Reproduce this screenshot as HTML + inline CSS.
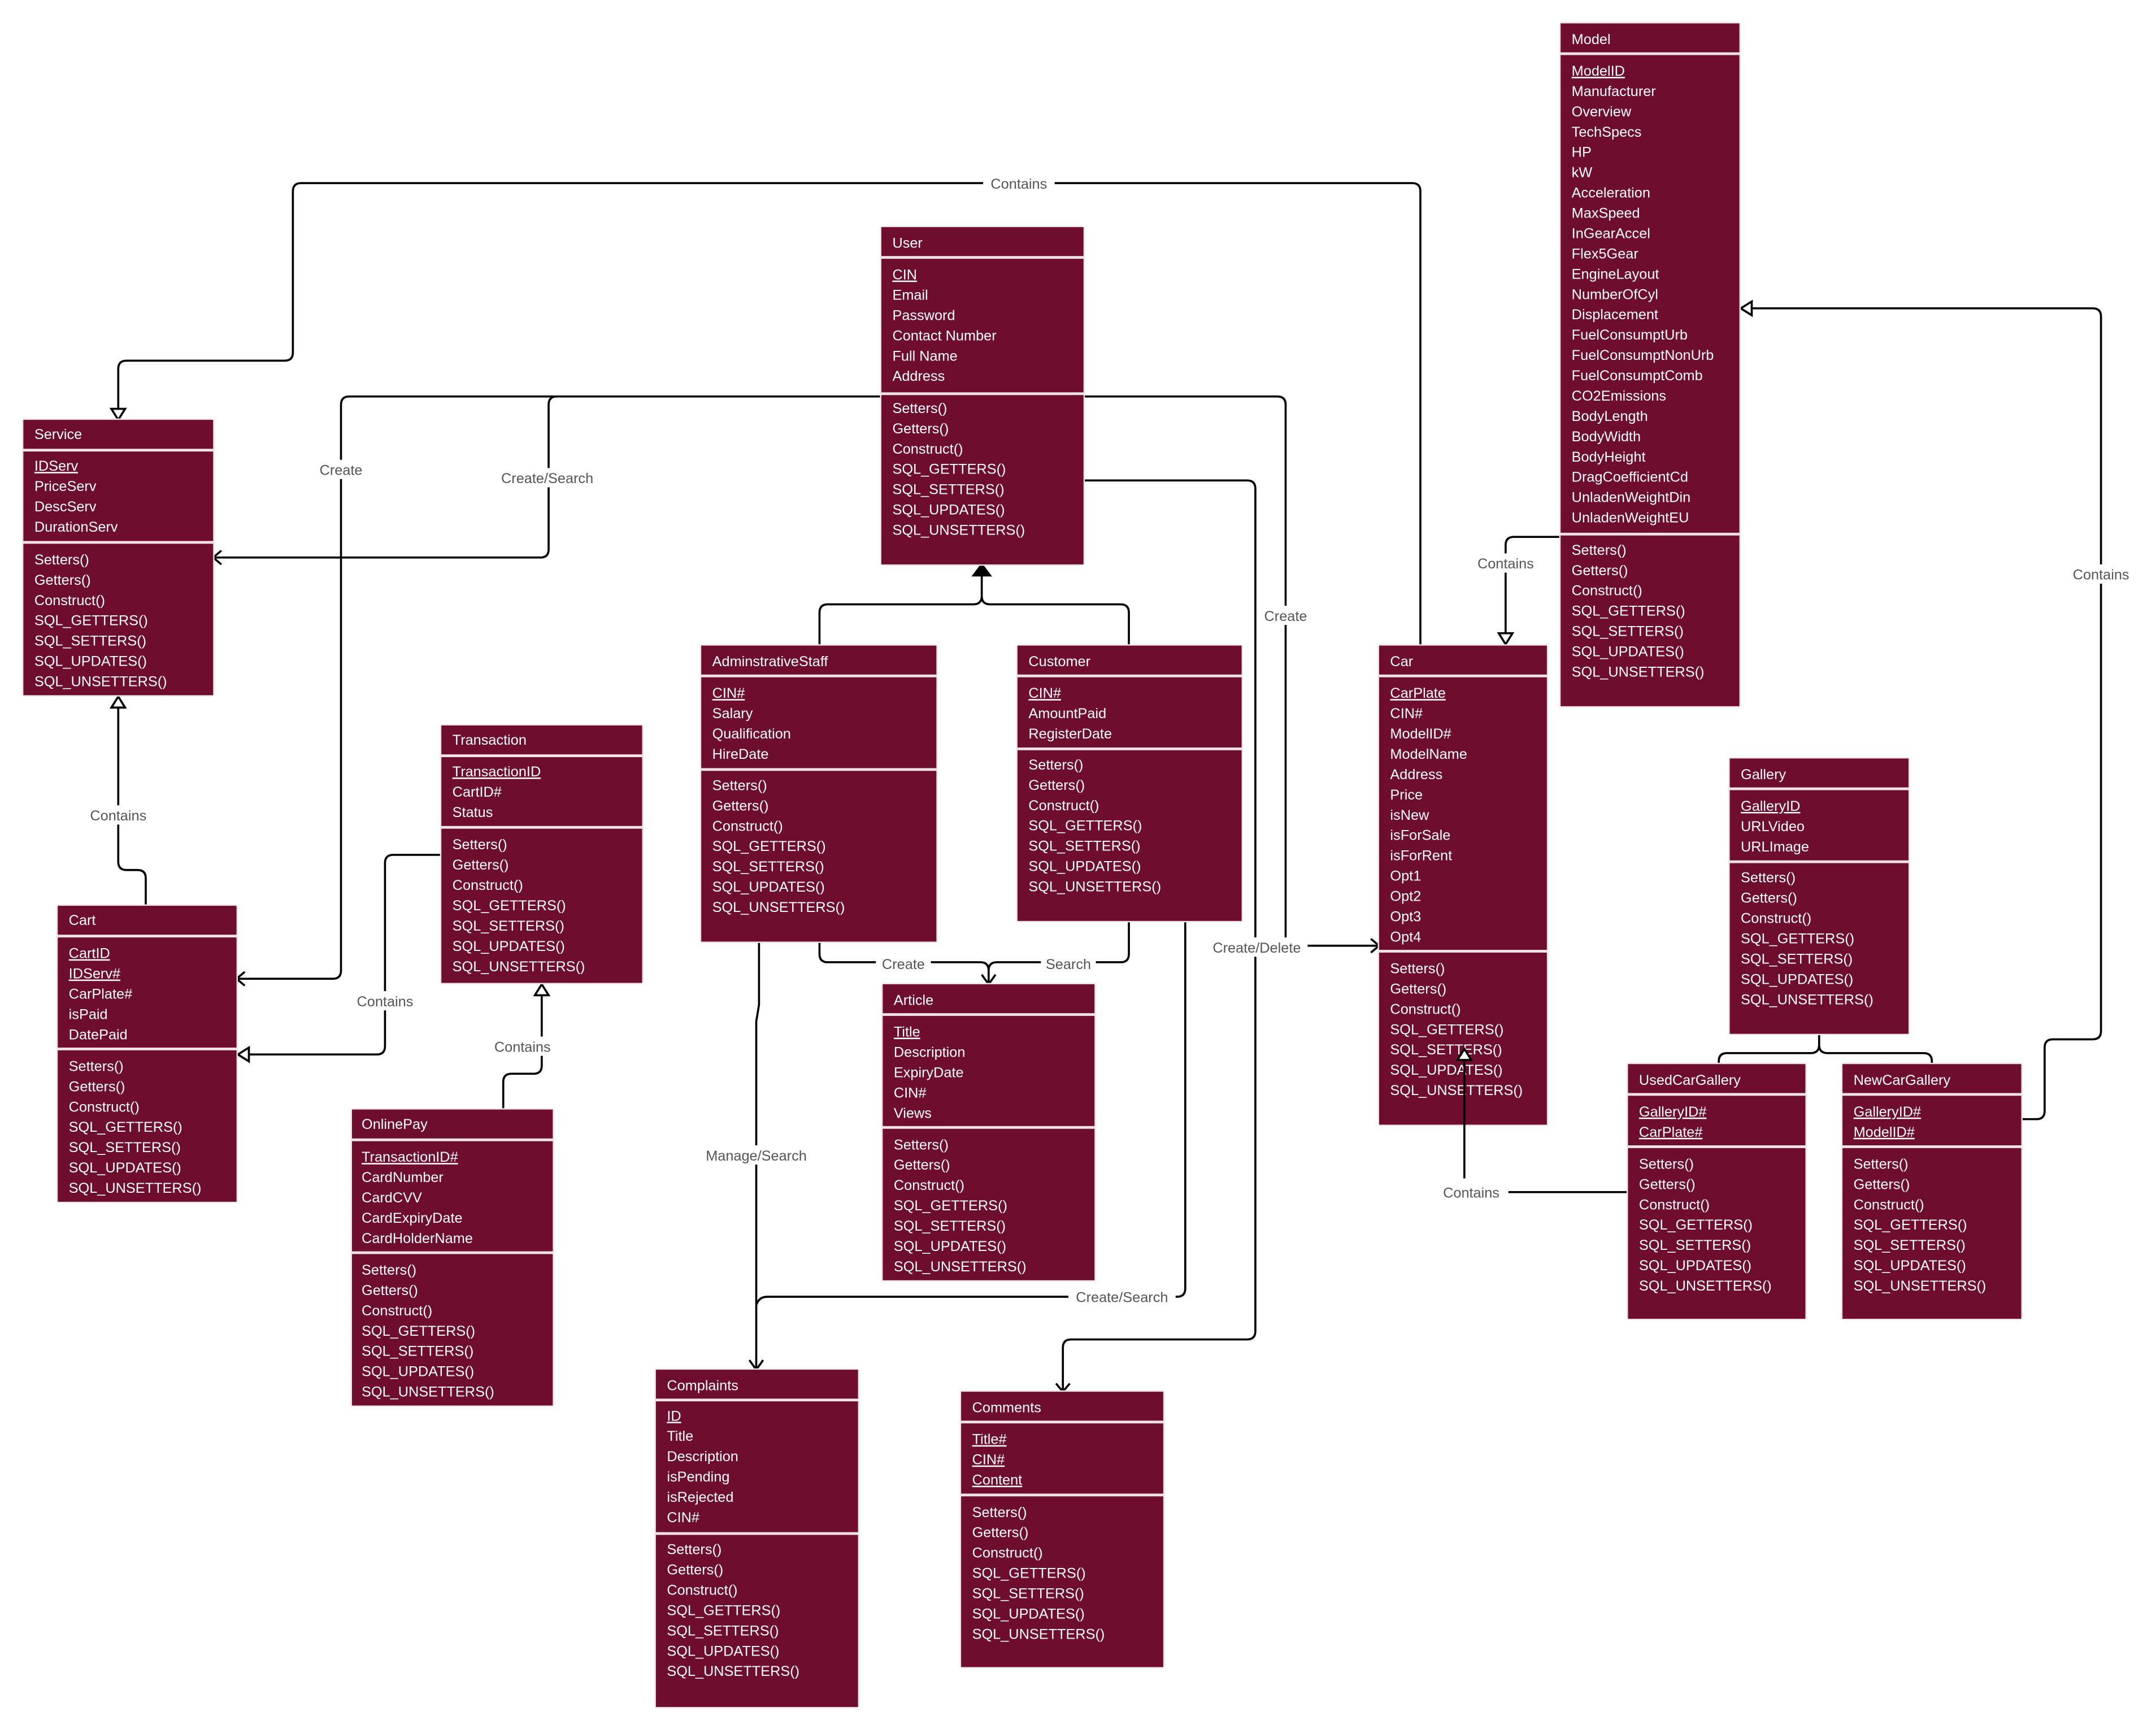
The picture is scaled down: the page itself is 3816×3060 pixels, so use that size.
<!DOCTYPE html>
<html><head><meta charset="utf-8">
<style>
html,body{margin:0;padding:0;background:#fff;}
svg{display:block;}
.t{font-family:"Liberation Sans",sans-serif;font-size:10.4px;fill:#fff;}
.u{text-decoration:underline;}
.l{font-family:"Liberation Sans",sans-serif;font-size:10.4px;fill:#555;}
.ln{fill:none;stroke:#000;stroke-width:1.5;stroke-linejoin:round;}
.o{fill:#efe3e7;}
.m{fill:#6e0d2e;}
</style></head>
<body>
<svg width="3816" height="3060" viewBox="0 0 1568 1256" preserveAspectRatio="none" xmlns="http://www.w3.org/2000/svg">
<rect width="1600" height="1300" fill="#fff"/>

<!-- connectors -->
<path class="ln" d="M1033 469 V139 Q1033 133 1027 133 H219 Q213 133 213 139 V256 Q213 262 207 262 H92 Q86 262 86 268 V297"/>
<path class="ln" d="M641 288 H254 Q248 288 248 294 V705 Q248 711 242 711 H173"/>
<path class="ln" d="M405 288 Q399 288 399 294 V399 Q399 405 393 405 H156"/>
<path class="ln" d="M788 288 H929 Q935 288 935 294 V681 Q935 687 941 687 H1002"/>
<path class="ln" d="M788 349 H907 Q913 349 913 355 V967 Q913 973 907 973 H779 Q773 973 773 979 V1010"/>
<path class="ln" d="M596 469 V445 Q596 439 602 439 H708 Q714 439 714 433 V414 M821 469 V445 Q821 439 815 439 H720 Q714 439 714 433"/>
<path class="ln" d="M596 684 V693 Q596 699 602 699 H713 Q719 699 719 705 V714 M821 669 V693 Q821 699 815 699 H725 Q719 699 719 705"/>
<path class="ln" d="M552 684 V730 L550 742 V994 M862 669 V936 Q862 942 856 942 H558 Q552 942 550 948"/>
<path class="ln" d="M106 658 V638 Q106 632 100 632 H92 Q86 632 86 626 V514"/>
<path class="ln" d="M321 621 H286 Q280 621 280 627 V760 Q280 766 274 766 H181"/>
<path class="ln" d="M366 806 V786 Q366 780 372 780 H388 Q394 780 394 774 V723"/>
<path class="ln" d="M1135 390 H1101 Q1095 390 1095 396 V460"/>
<path class="ln" d="M1470 813 H1481 Q1487 813 1487 807 V761 Q1487 755 1493 755 H1522 Q1528 755 1528 749 V230 Q1528 224 1522 224 H1274"/>
<path class="ln" d="M1323 751 V759 Q1323 765 1317 765 H1256 Q1250 765 1250 771 V773 M1323 759 Q1323 765 1329 765 H1399 Q1405 765 1405 771 V773"/>
<path class="ln" d="M1184 866 H1097"/>

<!-- arrowheads -->
<polygon points="81,297 91,297 86,305" fill="#fff" stroke="#000" stroke-width="1.5"/>
<polyline class="ln" points="178,706 172,711 178,716"/>
<polyline class="ln" points="161,400 155,405 161,410"/>
<polyline class="ln" points="997,682 1003,687 997,692"/>
<polyline class="ln" points="768,1005 773,1011 778,1005"/>
<polygon points="708,418 720,418 714,410" fill="#000" stroke="#000" stroke-width="1.5"/>
<polyline class="ln" points="714,708 719,715 724,708"/>
<polyline class="ln" points="545,988 550,995 555,988"/>
<polygon points="81,514 91,514 86,506" fill="#fff" stroke="#000" stroke-width="1.5"/>
<polygon points="181,761 181,771 173,766" fill="#fff" stroke="#000" stroke-width="1.5"/>
<polygon points="389,723 399,723 394,715" fill="#fff" stroke="#000" stroke-width="1.5"/>
<polygon points="1090,460 1100,460 1095,468" fill="#fff" stroke="#000" stroke-width="1.5"/>
<polygon points="1274,219 1274,229 1266,224" fill="#fff" stroke="#000" stroke-width="1.5"/>

<!-- labels -->
<g>
<rect x="715" y="126" width="52" height="14" fill="#fff"/><text class="l" x="741" y="137" text-anchor="middle">Contains</text>
<rect x="228" y="334" width="40" height="14" fill="#fff"/><text class="l" x="248" y="345" text-anchor="middle">Create</text>
<rect x="358" y="340" width="80" height="14" fill="#fff"/><text class="l" x="398" y="351" text-anchor="middle">Create/Search</text>
<rect x="915" y="440" width="40" height="14" fill="#fff"/><text class="l" x="935" y="451" text-anchor="middle">Create</text>
<rect x="877" y="681" width="74" height="14" fill="#fff"/><text class="l" x="914" y="692" text-anchor="middle">Create/Delete</text>
<rect x="637" y="693" width="40" height="14" fill="#fff"/><text class="l" x="657" y="704" text-anchor="middle">Create</text>
<rect x="757" y="693" width="40" height="14" fill="#fff"/><text class="l" x="777" y="704" text-anchor="middle">Search</text>
<rect x="508" y="832" width="84" height="14" fill="#fff"/><text class="l" x="550" y="843" text-anchor="middle">Manage/Search</text>
<rect x="777" y="935" width="78" height="14" fill="#fff"/><text class="l" x="816" y="946" text-anchor="middle">Create/Search</text>
<rect x="60" y="585" width="52" height="14" fill="#fff"/><text class="l" x="86" y="596" text-anchor="middle">Contains</text>
<rect x="254" y="720" width="52" height="14" fill="#fff"/><text class="l" x="280" y="731" text-anchor="middle">Contains</text>
<rect x="354" y="753" width="52" height="14" fill="#fff"/><text class="l" x="380" y="764" text-anchor="middle">Contains</text>
<rect x="1069" y="402" width="52" height="14" fill="#fff"/><text class="l" x="1095" y="413" text-anchor="middle">Contains</text>
<rect x="1502" y="410" width="52" height="14" fill="#fff"/><text class="l" x="1528" y="421" text-anchor="middle">Contains</text>
<text class="l" x="1070" y="870" text-anchor="middle">Contains</text>
</g>

<!-- Model -->
<rect class="o" x="1134" y="16" width="132" height="498" rx="2"/>
<rect class="m" x="1135" y="17" width="130" height="21"/>
<rect class="m" x="1135" y="40" width="130" height="347"/>
<rect class="m" x="1135" y="389" width="130" height="124"/>
<text class="t" x="1143" y="32">Model</text>
<text class="t" x="1143" y="55"><tspan class="u">ModelID</tspan><tspan x="1143" dy="14.75">Manufacturer</tspan><tspan x="1143" dy="14.75">Overview</tspan><tspan x="1143" dy="14.75">TechSpecs</tspan><tspan x="1143" dy="14.75">HP</tspan><tspan x="1143" dy="14.75">kW</tspan><tspan x="1143" dy="14.75">Acceleration</tspan><tspan x="1143" dy="14.75">MaxSpeed</tspan><tspan x="1143" dy="14.75">InGearAccel</tspan><tspan x="1143" dy="14.75">Flex5Gear</tspan><tspan x="1143" dy="14.75">EngineLayout</tspan><tspan x="1143" dy="14.75">NumberOfCyl</tspan><tspan x="1143" dy="14.75">Displacement</tspan><tspan x="1143" dy="14.75">FuelConsumptUrb</tspan><tspan x="1143" dy="14.75">FuelConsumptNonUrb</tspan><tspan x="1143" dy="14.75">FuelConsumptComb</tspan><tspan x="1143" dy="14.75">CO2Emissions</tspan><tspan x="1143" dy="14.75">BodyLength</tspan><tspan x="1143" dy="14.75">BodyWidth</tspan><tspan x="1143" dy="14.75">BodyHeight</tspan><tspan x="1143" dy="14.75">DragCoefficientCd</tspan><tspan x="1143" dy="14.75">UnladenWeightDin</tspan><tspan x="1143" dy="14.75">UnladenWeightEU</tspan></text>
<text class="t" x="1143" y="403"><tspan>Setters()</tspan><tspan x="1143" dy="14.75">Getters()</tspan><tspan x="1143" dy="14.75">Construct()</tspan><tspan x="1143" dy="14.75">SQL_GETTERS()</tspan><tspan x="1143" dy="14.75">SQL_SETTERS()</tspan><tspan x="1143" dy="14.75">SQL_UPDATES()</tspan><tspan x="1143" dy="14.75">SQL_UNSETTERS()</tspan></text>

<!-- User -->
<rect class="o" x="640" y="164" width="149" height="247" rx="2"/>
<rect class="m" x="641" y="165" width="147" height="21"/>
<rect class="m" x="641" y="188" width="147" height="97"/>
<rect class="m" x="641" y="287" width="147" height="123"/>
<text class="t" x="649" y="180">User</text>
<text class="t" x="649" y="203"><tspan class="u">CIN</tspan><tspan x="649" dy="14.75">Email</tspan><tspan x="649" dy="14.75">Password</tspan><tspan x="649" dy="14.75">Contact Number</tspan><tspan x="649" dy="14.75">Full Name</tspan><tspan x="649" dy="14.75">Address</tspan></text>
<text class="t" x="649" y="300"><tspan>Setters()</tspan><tspan x="649" dy="14.75">Getters()</tspan><tspan x="649" dy="14.75">Construct()</tspan><tspan x="649" dy="14.75">SQL_GETTERS()</tspan><tspan x="649" dy="14.75">SQL_SETTERS()</tspan><tspan x="649" dy="14.75">SQL_UPDATES()</tspan><tspan x="649" dy="14.75">SQL_UNSETTERS()</tspan></text>

<!-- Service -->
<rect class="o" x="16" y="304" width="140" height="202" rx="2"/>
<rect class="m" x="17" y="305" width="138" height="21"/>
<rect class="m" x="17" y="328" width="138" height="65"/>
<rect class="m" x="17" y="395" width="138" height="110"/>
<text class="t" x="25" y="319">Service</text>
<text class="t" x="25" y="342"><tspan class="u">IDServ</tspan><tspan x="25" dy="14.75">PriceServ</tspan><tspan x="25" dy="14.75">DescServ</tspan><tspan x="25" dy="14.75">DurationServ</tspan></text>
<text class="t" x="25" y="410"><tspan>Setters()</tspan><tspan x="25" dy="14.75">Getters()</tspan><tspan x="25" dy="14.75">Construct()</tspan><tspan x="25" dy="14.75">SQL_GETTERS()</tspan><tspan x="25" dy="14.75">SQL_SETTERS()</tspan><tspan x="25" dy="14.75">SQL_UPDATES()</tspan><tspan x="25" dy="14.75">SQL_UNSETTERS()</tspan></text>

<!-- Transaction -->
<rect class="o" x="320" y="526" width="148" height="189" rx="2"/>
<rect class="m" x="321" y="527" width="146" height="21"/>
<rect class="m" x="321" y="550" width="146" height="50"/>
<rect class="m" x="321" y="602" width="146" height="112"/>
<text class="t" x="329" y="541">Transaction</text>
<text class="t" x="329" y="564"><tspan class="u">TransactionID</tspan><tspan x="329" dy="14.75">CartID#</tspan><tspan x="329" dy="14.75">Status</tspan></text>
<text class="t" x="329" y="617"><tspan>Setters()</tspan><tspan x="329" dy="14.75">Getters()</tspan><tspan x="329" dy="14.75">Construct()</tspan><tspan x="329" dy="14.75">SQL_GETTERS()</tspan><tspan x="329" dy="14.75">SQL_SETTERS()</tspan><tspan x="329" dy="14.75">SQL_UPDATES()</tspan><tspan x="329" dy="14.75">SQL_UNSETTERS()</tspan></text>

<!-- Cart -->
<rect class="o" x="41" y="657" width="132" height="217" rx="2"/>
<rect class="m" x="42" y="658" width="130" height="21"/>
<rect class="m" x="42" y="681" width="130" height="80"/>
<rect class="m" x="42" y="763" width="130" height="110"/>
<text class="t" x="50" y="672">Cart</text>
<text class="t" x="50" y="696"><tspan class="u">CartID</tspan><tspan class="u" x="50" dy="14.75">IDServ#</tspan><tspan x="50" dy="14.75">CarPlate#</tspan><tspan x="50" dy="14.75">isPaid</tspan><tspan x="50" dy="14.75">DatePaid</tspan></text>
<text class="t" x="50" y="778"><tspan>Setters()</tspan><tspan x="50" dy="14.75">Getters()</tspan><tspan x="50" dy="14.75">Construct()</tspan><tspan x="50" dy="14.75">SQL_GETTERS()</tspan><tspan x="50" dy="14.75">SQL_SETTERS()</tspan><tspan x="50" dy="14.75">SQL_UPDATES()</tspan><tspan x="50" dy="14.75">SQL_UNSETTERS()</tspan></text>

<!-- OnlinePay -->
<rect class="o" x="255" y="805" width="148" height="217" rx="2"/>
<rect class="m" x="256" y="806" width="146" height="21"/>
<rect class="m" x="256" y="829" width="146" height="80"/>
<rect class="m" x="256" y="911" width="146" height="110"/>
<text class="t" x="263" y="820">OnlinePay</text>
<text class="t" x="263" y="844"><tspan class="u">TransactionID#</tspan><tspan x="263" dy="14.75">CardNumber</tspan><tspan x="263" dy="14.75">CardCVV</tspan><tspan x="263" dy="14.75">CardExpiryDate</tspan><tspan x="263" dy="14.75">CardHolderName</tspan></text>
<text class="t" x="263" y="926"><tspan>Setters()</tspan><tspan x="263" dy="14.75">Getters()</tspan><tspan x="263" dy="14.75">Construct()</tspan><tspan x="263" dy="14.75">SQL_GETTERS()</tspan><tspan x="263" dy="14.75">SQL_SETTERS()</tspan><tspan x="263" dy="14.75">SQL_UPDATES()</tspan><tspan x="263" dy="14.75">SQL_UNSETTERS()</tspan></text>

<!-- AdminstrativeStaff -->
<rect class="o" x="509" y="468" width="173" height="217" rx="2"/>
<rect class="m" x="510" y="469" width="171" height="21"/>
<rect class="m" x="510" y="492" width="171" height="66"/>
<rect class="m" x="510" y="560" width="171" height="124"/>
<text class="t" x="518" y="484">AdminstrativeStaff</text>
<text class="t" x="518" y="507"><tspan class="u">CIN#</tspan><tspan x="518" dy="14.75">Salary</tspan><tspan x="518" dy="14.75">Qualification</tspan><tspan x="518" dy="14.75">HireDate</tspan></text>
<text class="t" x="518" y="574"><tspan>Setters()</tspan><tspan x="518" dy="14.75">Getters()</tspan><tspan x="518" dy="14.75">Construct()</tspan><tspan x="518" dy="14.75">SQL_GETTERS()</tspan><tspan x="518" dy="14.75">SQL_SETTERS()</tspan><tspan x="518" dy="14.75">SQL_UPDATES()</tspan><tspan x="518" dy="14.75">SQL_UNSETTERS()</tspan></text>

<!-- Customer -->
<rect class="o" x="739" y="468" width="165" height="202" rx="2"/>
<rect class="m" x="740" y="469" width="163" height="21"/>
<rect class="m" x="740" y="492" width="163" height="51"/>
<rect class="m" x="740" y="545" width="163" height="124"/>
<text class="t" x="748" y="484">Customer</text>
<text class="t" x="748" y="507"><tspan class="u">CIN#</tspan><tspan x="748" dy="14.75">AmountPaid</tspan><tspan x="748" dy="14.75">RegisterDate</tspan></text>
<text class="t" x="748" y="559"><tspan>Setters()</tspan><tspan x="748" dy="14.75">Getters()</tspan><tspan x="748" dy="14.75">Construct()</tspan><tspan x="748" dy="14.75">SQL_GETTERS()</tspan><tspan x="748" dy="14.75">SQL_SETTERS()</tspan><tspan x="748" dy="14.75">SQL_UPDATES()</tspan><tspan x="748" dy="14.75">SQL_UNSETTERS()</tspan></text>

<!-- Article -->
<rect class="o" x="641" y="714" width="156" height="217" rx="2"/>
<rect class="m" x="642" y="715" width="154" height="21"/>
<rect class="m" x="642" y="738" width="154" height="80"/>
<rect class="m" x="642" y="820" width="154" height="110"/>
<text class="t" x="650" y="730">Article</text>
<text class="t" x="650" y="753"><tspan class="u">Title</tspan><tspan x="650" dy="14.75">Description</tspan><tspan x="650" dy="14.75">ExpiryDate</tspan><tspan x="650" dy="14.75">CIN#</tspan><tspan x="650" dy="14.75">Views</tspan></text>
<text class="t" x="650" y="835"><tspan>Setters()</tspan><tspan x="650" dy="14.75">Getters()</tspan><tspan x="650" dy="14.75">Construct()</tspan><tspan x="650" dy="14.75">SQL_GETTERS()</tspan><tspan x="650" dy="14.75">SQL_SETTERS()</tspan><tspan x="650" dy="14.75">SQL_UPDATES()</tspan><tspan x="650" dy="14.75">SQL_UNSETTERS()</tspan></text>

<!-- Car -->
<rect class="o" x="1002" y="468" width="124" height="350" rx="2"/>
<rect class="m" x="1003" y="469" width="122" height="21"/>
<rect class="m" x="1003" y="492" width="122" height="198"/>
<rect class="m" x="1003" y="692" width="122" height="125"/>
<text class="t" x="1011" y="484">Car</text>
<text class="t" x="1011" y="507"><tspan class="u">CarPlate</tspan><tspan x="1011" dy="14.75">CIN#</tspan><tspan x="1011" dy="14.75">ModelID#</tspan><tspan x="1011" dy="14.75">ModelName</tspan><tspan x="1011" dy="14.75">Address</tspan><tspan x="1011" dy="14.75">Price</tspan><tspan x="1011" dy="14.75">isNew</tspan><tspan x="1011" dy="14.75">isForSale</tspan><tspan x="1011" dy="14.75">isForRent</tspan><tspan x="1011" dy="14.75">Opt1</tspan><tspan x="1011" dy="14.75">Opt2</tspan><tspan x="1011" dy="14.75">Opt3</tspan><tspan x="1011" dy="14.75">Opt4</tspan></text>
<text class="t" x="1011" y="707"><tspan>Setters()</tspan><tspan x="1011" dy="14.75">Getters()</tspan><tspan x="1011" dy="14.75">Construct()</tspan><tspan x="1011" dy="14.75">SQL_GETTERS()</tspan><tspan x="1011" dy="14.75">SQL_SETTERS()</tspan><tspan x="1011" dy="14.75">SQL_UPDATES()</tspan><tspan x="1011" dy="14.75">SQL_UNSETTERS()</tspan></text>

<!-- Gallery -->
<rect class="o" x="1257" y="550" width="132" height="202" rx="2"/>
<rect class="m" x="1258" y="551" width="130" height="21"/>
<rect class="m" x="1258" y="574" width="130" height="51"/>
<rect class="m" x="1258" y="627" width="130" height="124"/>
<text class="t" x="1266" y="566">Gallery</text>
<text class="t" x="1266" y="589"><tspan class="u">GalleryID</tspan><tspan x="1266" dy="14.75">URLVideo</tspan><tspan x="1266" dy="14.75">URLImage</tspan></text>
<text class="t" x="1266" y="641"><tspan>Setters()</tspan><tspan x="1266" dy="14.75">Getters()</tspan><tspan x="1266" dy="14.75">Construct()</tspan><tspan x="1266" dy="14.75">SQL_GETTERS()</tspan><tspan x="1266" dy="14.75">SQL_SETTERS()</tspan><tspan x="1266" dy="14.75">SQL_UPDATES()</tspan><tspan x="1266" dy="14.75">SQL_UNSETTERS()</tspan></text>

<!-- hollow arrow over Car -->
<polygon points="1060,770 1070,770 1065,762" fill="#fff" stroke="#000" stroke-width="1.5"/>
<line class="ln" x1="1065" y1="770" x2="1065" y2="856"/>

<!-- UsedCarGallery -->
<rect class="o" x="1183" y="772" width="131" height="187" rx="2"/>
<rect class="m" x="1184" y="773" width="129" height="21"/>
<rect class="m" x="1184" y="796" width="129" height="36"/>
<rect class="m" x="1184" y="834" width="129" height="124"/>
<text class="t" x="1192" y="788">UsedCarGallery</text>
<text class="t" x="1192" y="811"><tspan class="u">GalleryID#</tspan><tspan class="u" x="1192" dy="14.75">CarPlate#</tspan></text>
<text class="t" x="1192" y="849"><tspan>Setters()</tspan><tspan x="1192" dy="14.75">Getters()</tspan><tspan x="1192" dy="14.75">Construct()</tspan><tspan x="1192" dy="14.75">SQL_GETTERS()</tspan><tspan x="1192" dy="14.75">SQL_SETTERS()</tspan><tspan x="1192" dy="14.75">SQL_UPDATES()</tspan><tspan x="1192" dy="14.75">SQL_UNSETTERS()</tspan></text>

<!-- NewCarGallery -->
<rect class="o" x="1339" y="772" width="132" height="187" rx="2"/>
<rect class="m" x="1340" y="773" width="130" height="21"/>
<rect class="m" x="1340" y="796" width="130" height="36"/>
<rect class="m" x="1340" y="834" width="130" height="124"/>
<text class="t" x="1348" y="788">NewCarGallery</text>
<text class="t" x="1348" y="811"><tspan class="u">GalleryID#</tspan><tspan class="u" x="1348" dy="14.75">ModelID#</tspan></text>
<text class="t" x="1348" y="849"><tspan>Setters()</tspan><tspan x="1348" dy="14.75">Getters()</tspan><tspan x="1348" dy="14.75">Construct()</tspan><tspan x="1348" dy="14.75">SQL_GETTERS()</tspan><tspan x="1348" dy="14.75">SQL_SETTERS()</tspan><tspan x="1348" dy="14.75">SQL_UPDATES()</tspan><tspan x="1348" dy="14.75">SQL_UNSETTERS()</tspan></text>

<!-- Complaints -->
<rect class="o" x="476" y="994" width="149" height="247" rx="2"/>
<rect class="m" x="477" y="995" width="147" height="21"/>
<rect class="m" x="477" y="1018" width="147" height="95"/>
<rect class="m" x="477" y="1115" width="147" height="125"/>
<text class="t" x="485" y="1010">Complaints</text>
<text class="t" x="485" y="1032"><tspan class="u">ID</tspan><tspan x="485" dy="14.75">Title</tspan><tspan x="485" dy="14.75">Description</tspan><tspan x="485" dy="14.75">isPending</tspan><tspan x="485" dy="14.75">isRejected</tspan><tspan x="485" dy="14.75">CIN#</tspan></text>
<text class="t" x="485" y="1129"><tspan>Setters()</tspan><tspan x="485" dy="14.75">Getters()</tspan><tspan x="485" dy="14.75">Construct()</tspan><tspan x="485" dy="14.75">SQL_GETTERS()</tspan><tspan x="485" dy="14.75">SQL_SETTERS()</tspan><tspan x="485" dy="14.75">SQL_UPDATES()</tspan><tspan x="485" dy="14.75">SQL_UNSETTERS()</tspan></text>

<!-- Comments -->
<rect class="o" x="698" y="1010" width="149" height="202" rx="2"/>
<rect class="m" x="699" y="1011" width="147" height="21"/>
<rect class="m" x="699" y="1034" width="147" height="51"/>
<rect class="m" x="699" y="1087" width="147" height="124"/>
<text class="t" x="707" y="1026">Comments</text>
<text class="t" x="707" y="1049"><tspan class="u">Title#</tspan><tspan class="u" x="707" dy="14.75">CIN#</tspan><tspan class="u" x="707" dy="14.75">Content</tspan></text>
<text class="t" x="707" y="1102"><tspan>Setters()</tspan><tspan x="707" dy="14.75">Getters()</tspan><tspan x="707" dy="14.75">Construct()</tspan><tspan x="707" dy="14.75">SQL_GETTERS()</tspan><tspan x="707" dy="14.75">SQL_SETTERS()</tspan><tspan x="707" dy="14.75">SQL_UPDATES()</tspan><tspan x="707" dy="14.75">SQL_UNSETTERS()</tspan></text>
</svg>
</body></html>
